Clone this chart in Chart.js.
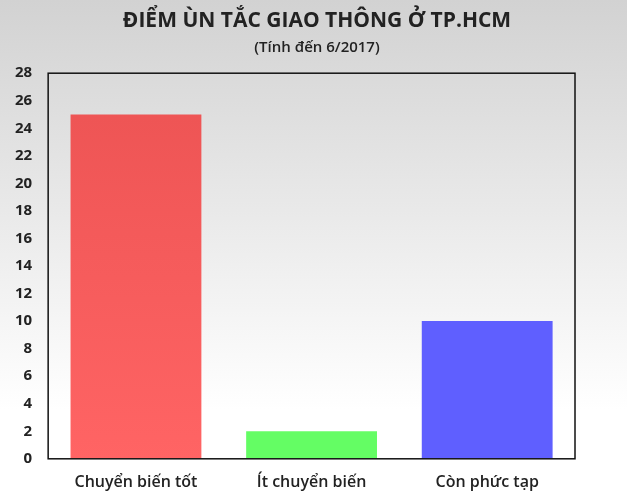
<!DOCTYPE html>
<html>
<head>
<meta charset="utf-8">
<script src="https://cdn.jsdelivr.net/npm/chart.js@4.4.1/dist/chart.umd.min.js"></script>
<style>
  body { margin: 0; background: #fff; }
  #wrap { width: 627px; height: 500px; position: relative; }
</style>
</head>
<body>
<div id="wrap"><canvas id="myChart"></canvas></div>
<script>
  const labels = ["Chuyển biến tốt", "Ít chuyển biến", "Còn phức tạp"];
  const values = [25, 2, 10];
  const yTicks = [0, 2, 4, 6, 8, 10, 12, 14, 16, 18, 20, 22, 24, 26, 28];

  const titleText = "ĐIỂM ÙN TẮC GIAO THÔNG Ở TP.HCM";
  const subtitleText = "(Tính đến 6/2017)";

  // grey to white background behind everything
  const bgPlugin = {
    id: "bg",
    beforeDraw(chart) {
      const ctx = chart.ctx;
      const g = ctx.createLinearGradient(0, 0, 0, chart.height);
      g.addColorStop(0, "#d2d2d2");
      g.addColorStop(0.82, "#ffffff");
      g.addColorStop(1, "#ffffff");
      ctx.save();
      ctx.fillStyle = g;
      ctx.fillRect(0, 0, chart.width, chart.height);
      ctx.restore();
    }
  };

  // black frame round the plot
  const framePlugin = {
    id: "frame",
    afterDatasetsDraw(chart) {
      const a = chart.chartArea;
      const ctx = chart.ctx;
      ctx.save();
      ctx.strokeStyle = "#111";
      ctx.lineWidth = 1.5;
      ctx.strokeRect(a.left, a.top, a.right - a.left, a.bottom - a.top);
      ctx.restore();
    }
  };

  function barColor(context) {
    const chart = context.chart;
    const a = chart.chartArea;
    if (!a) return "#f05a5a";
    if (context.dataIndex === 0) {
      const g = chart.ctx.createLinearGradient(0, a.top, 0, a.bottom);
      g.addColorStop(0, "#ec5353");
      g.addColorStop(1, "#ff6464");
      return g;
    }
    if (context.dataIndex === 1) return "#64fd64";
    return "#5f5fff";
  }

  new Chart("myChart", {
    type: "bar",
    data: {
      labels: labels,
      datasets: [{
        data: values,
        backgroundColor: barColor,
        borderWidth: 0,
        categoryPercentage: 1,
        barPercentage: 0.745
      }]
    },
    options: {
      responsive: true,
      maintainAspectRatio: false,
      animation: false,
      layout: { padding: { left: 7, right: 0, top: 0, bottom: 2 } },
      plugins: {
        legend: { display: false },
        tooltip: { enabled: false },
        title: {
          display: true,
          text: titleText,
          color: "#222",
          font: { family: "Open Sans", size: 21, weight: "bold" },
          padding: { top: 8, bottom: 6 }
        },
        subtitle: {
          display: true,
          text: subtitleText,
          color: "#222",
          font: { family: "Open Sans", size: 15, weight: "600" },
          padding: { top: 0, bottom: 16 }
        }
      },
      scales: {
        x: {
          grid: { display: false },
          border: { display: false },
          ticks: {
            color: "#222",
            padding: 6,
            font: { family: "Open Sans", size: 16, weight: "600" }
          }
        },
        y: {
          min: 0,
          max: 28,
          grid: { display: false },
          border: { display: false },
          afterBuildTicks(axis) {
            axis.ticks = yTicks.map(v => ({ value: v }));
          },
          ticks: {
            color: "#222",
            padding: 8,
            font: { family: "Open Sans", size: 15, weight: "bold" }
          }
        },
        // empty axis on the right, only to keep space there
        yRight: {
          position: "right",
          min: 0,
          max: 28,
          grid: { display: false },
          border: { display: false },
          ticks: { display: false },
          afterFit(axis) { axis.width = 52; }
        }
      }
    },
    plugins: [bgPlugin, framePlugin]
  });
</script>
</body>
</html>
